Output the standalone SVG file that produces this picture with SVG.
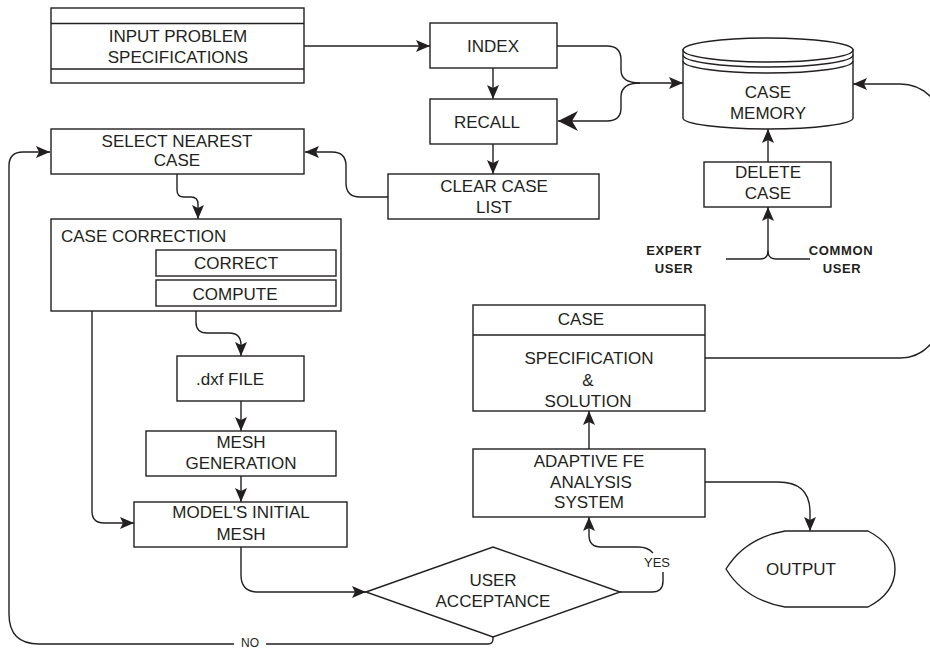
<svg xmlns="http://www.w3.org/2000/svg" width="930" height="650" viewBox="0 0 930 650">
<defs>
<style>
.b{fill:#fff;stroke:#231f20;stroke-width:1.4}
.c{fill:none;stroke:#231f20;stroke-width:1.4}
.t{font-family:"Liberation Sans",Arial,sans-serif;font-size:17px;fill:#231f20;text-anchor:middle}
.s{font-family:"Liberation Sans",Arial,sans-serif;font-size:13px;fill:#231f20;text-anchor:middle}
.u{font-family:"Liberation Sans",Arial,sans-serif;font-size:13px;font-weight:bold;letter-spacing:0.6px;fill:#231f20;text-anchor:middle}
</style>
<marker id="ah" viewBox="0 0 14 12" refX="14" refY="6" markerWidth="14" markerHeight="12" orient="auto" markerUnits="userSpaceOnUse"><path d="M0,0 L14,6 L0,12 L3,6 Z" fill="#231f20"/></marker>
<marker id="ahb" viewBox="0 0 20 20" refX="20" refY="10" markerWidth="20" markerHeight="20" orient="auto" markerUnits="userSpaceOnUse"><path d="M0,0 L20,10 L0,20 L6,10 Z" fill="#231f20"/></marker>
</defs>
<rect width="930" height="650" fill="#fff"/>

<g id="connectors">
<path class="c" d="M304,46 L430,46" marker-end="url(#ah)"/>
<path class="c" d="M493,68 L493,99" marker-end="url(#ah)"/>
<path class="c" d="M493,144 L493,174" marker-end="url(#ah)"/>
<path class="c" d="M557,46 L607,46 Q621,46 621,60 L621,70 Q621,83 640,83 L683,83" marker-end="url(#ah)"/>
<path class="c" d="M640,83 Q621,83 621,97 L621,108 Q621,121 607,121 L558,121" marker-end="url(#ahb)"/>
<path class="c" d="M388,197 L360,197 Q346,197 346,183 L346,166 Q346,152 332,152 L305,152" marker-end="url(#ah)"/>
<path class="c" d="M177,174 L177,190 Q177,197 184,197 L191,197 Q198,197 198,204 L198,219" marker-end="url(#ah)"/>
<path class="c" d="M196,311 L196,322 Q196,333 207,333 L229,333 Q241,333 241,345 L241,356" marker-end="url(#ah)"/>
<path class="c" d="M241,401 L241,431" marker-end="url(#ah)"/>
<path class="c" d="M241,476 L241,502" marker-end="url(#ah)"/>
<path class="c" d="M51,264 L80,264 Q92,264 92,276 L92,511 Q92,523 104,523 L134,523" marker-end="url(#ah)"/>
<path class="c" d="M241,547 L241,575 Q241,592 258,592 L366,592" marker-end="url(#ah)"/>
<path class="c" d="M620,592 L652,592 Q663,592 663,581 L663,572"/>
<path class="c" d="M653,553 Q648,547 638,547 L601,547 Q589,547 589,535 L589,517" marker-end="url(#ah)"/>
<path class="c" d="M493,636 L493,639 Q493,644 488,644 L266,644"/>
<path class="c" d="M234,644 L39,644 Q9,644 9,614 L9,166 Q9,152 23,152 L50,152" marker-end="url(#ah)"/>
<path class="c" d="M589,449 L589,411" marker-end="url(#ah)"/>
<path class="c" d="M705,482 L778,482 Q810,482 810,512 L810,531" marker-end="url(#ah)"/>
<path class="c" d="M705,358 L900,358 C920,358 935,345 945,320 L945,120 C935,95 920,84 900,84 L853,84" marker-end="url(#ah)"/>
<path class="c" d="M768,162 L768,129" marker-end="url(#ah)"/>
<path class="c" d="M726,259 L760,259 Q768,259 768,251 L768,207" marker-end="url(#ah)"/>
<path class="c" d="M810,259 L776,259 Q768,259 768,251"/>
<text class="s" x="250" y="647" style="font-size:12px">NO</text>
<text class="s" x="657" y="567">YES</text>
</g>

<g id="input">
<rect class="b" x="51" y="8" width="253" height="75"/>
<path class="c" d="M51,23.5 H304 M51,69 H304"/>
<text class="t" x="178" y="42">INPUT PROBLEM</text>
<text class="t" x="178" y="63">SPECIFICATIONS</text>
</g>

<g id="index">
<rect class="b" x="430" y="23" width="127" height="45"/>
<text class="t" x="493" y="52">INDEX</text>
</g>

<g id="recall">
<rect class="b" x="430" y="99" width="127" height="45"/>
<text class="t" x="487" y="128">RECALL</text>
</g>

<g id="clear">
<rect class="b" x="388" y="174" width="211" height="45"/>
<text class="t" x="494" y="192">CLEAR CASE</text>
<text class="t" x="494" y="213">LIST</text>
</g>

<g id="memory">
<path class="b" d="M683,50 L683,118 A85,11 0 0 0 853,118 L853,50 Z"/>
<ellipse class="b" cx="768" cy="50" rx="85" ry="12"/>
<path class="c" d="M683,55 A85,12 0 0 0 853,55 M683,61 A85,12 0 0 0 853,61"/>
<text class="t" x="768" y="98">CASE</text>
<text class="t" x="768" y="119">MEMORY</text>
</g>

<g id="delete">
<rect class="b" x="704" y="162" width="127" height="45"/>
<text class="t" x="768" y="178">DELETE</text>
<text class="t" x="768" y="199">CASE</text>
</g>

<g id="expert">
<text class="u" x="674" y="255">EXPERT</text>
<text class="u" x="674" y="273">USER</text>
</g>

<g id="common">
<text class="u" x="841" y="255">COMMON</text>
<text class="u" x="842" y="273">USER</text>
</g>

<g id="select">
<rect class="b" x="51" y="129" width="253" height="45"/>
<text class="t" x="177" y="147">SELECT NEAREST</text>
<text class="t" x="177" y="166">CASE</text>
</g>

<g id="correction">
<rect class="b" x="51" y="219" width="290" height="92"/>
<text class="t" x="61" y="242" style="text-anchor:start">CASE CORRECTION</text>
<rect class="b" x="156" y="250" width="180" height="26"/>
<text class="t" x="236" y="269">CORRECT</text>
<rect class="b" x="156" y="280" width="180" height="26"/>
<text class="t" x="235" y="300">COMPUTE</text>
</g>

<g id="dxf">
<rect class="b" x="177" y="356" width="127" height="45"/>
<text class="t" x="230" y="385">.dxf FILE</text>
</g>

<g id="mesh">
<rect class="b" x="146" y="431" width="190" height="45"/>
<text class="t" x="241" y="448">MESH</text>
<text class="t" x="241" y="469">GENERATION</text>
</g>

<g id="model">
<rect class="b" x="134" y="502" width="213" height="45"/>
<text class="t" x="241" y="518">MODEL'S INITIAL</text>
<text class="t" x="241" y="540">MESH</text>
</g>

<g id="acceptance">
<polygon class="b" points="366,592 493,547 620,592 493,637"/>
<text class="t" x="493" y="586">USER</text>
<text class="t" x="493" y="607">ACCEPTANCE</text>
</g>

<g id="case">
<rect class="b" x="473" y="305" width="232" height="106"/>
<path class="c" d="M473,335 H705"/>
<text class="t" x="581" y="325">CASE</text>
<text class="t" x="589" y="364">SPECIFICATION</text>
<text class="t" x="588" y="386">&amp;</text>
<text class="t" x="588" y="407">SOLUTION</text>
</g>

<g id="adaptive">
<rect class="b" x="473" y="449" width="232" height="68"/>
<text class="t" x="589" y="467">ADAPTIVE FE</text>
<text class="t" x="591" y="488">ANALYSIS</text>
<text class="t" x="589" y="508">SYSTEM</text>
</g>

<g id="output">
<path class="b" d="M785,531 L868,531 Q895,545 895,569 Q895,593 868,607 L785,607 Q745,600 726,569 Q745,538 785,531 Z"/>
<text class="t" x="801" y="575">OUTPUT</text>
</g>
</svg>
